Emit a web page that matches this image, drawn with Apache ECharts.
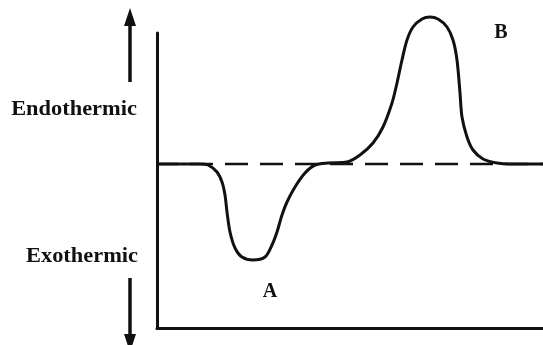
<!DOCTYPE html>
<html lang="en">
<head>
<meta charset="UTF-8" />
<title>DSC curve</title>
<script src="https://cdn.jsdelivr.net/npm/echarts@6/dist/echarts.min.js"></script>
<style>
    html, body { margin: 0; padding: 0; background: #fff; }
    #chart { width: 543px; height: 345px; }
</style>
</head>
<body>
<div id="chart"></div>
<script>
    // schematic DSC trace, arbitrary units (x = temperature, y = heat flow)
    const temp = [0, 28, 43, 51, 60, 65, 68, 70, 73, 78, 85, 96, 108, 115, 120, 125, 130, 138, 148, 158, 171,
        190, 203, 216, 226, 235, 240, 245, 250, 256, 265, 273, 281, 290, 296, 300, 303, 305, 310, 316, 326, 340, 353, 386];
    const heatFlow = [164, 164, 164, 163, 156, 146, 133, 116, 96, 80, 71, 68, 71, 83, 96, 113, 126, 141, 155, 163, 165,
        166, 173, 185, 201, 225, 245, 268, 288, 301, 309, 311, 309, 301, 288, 268, 235, 211, 191, 178, 169, 165, 164, 164];
    const baseline = 164;
    const xRange = [0, 386];
    const yRange = [0, 295];

    const ink = '#111';
    const font = 'bold 20px "Liberation Serif", "Times New Roman", serif';

    const chart = echarts.init(document.getElementById('chart'));

    const arrow = (x, y1, y2, tipY, baseY) => [
        { type: 'line', shape: { x1: x, y1: y1, x2: x, y2: y2 }, style: { stroke: ink, lineWidth: 3.5 } },
        { type: 'polygon', shape: { points: [[x, tipY], [x - 6, baseY], [x + 6, baseY]] }, style: { fill: ink } }
    ];
    const label = (text, x, y, sx) => ({
        type: 'text', x: x, y: y, scaleX: sx || 1,
        style: { text: text, font: font, fill: ink, align: 'center', verticalAlign: 'middle' }
    });

    chart.setOption({
        animation: false,
        grid: { left: 157, right: 0, top: 33, bottom: 17 },
        xAxis: {
            type: 'value', min: xRange[0], max: xRange[1],
            axisLine: { show: true, onZero: false, lineStyle: { color: ink, width: 3 } },
            axisTick: { show: false }, axisLabel: { show: false }, splitLine: { show: false }
        },
        yAxis: {
            type: 'value', min: yRange[0], max: yRange[1],
            axisLine: { show: true, onZero: false, lineStyle: { color: ink, width: 3 } },
            axisTick: { show: false }, axisLabel: { show: false }, splitLine: { show: false }
        },
        series: [
            {
                name: 'baseline', type: 'line', symbol: 'none', z: 1,
                data: [[xRange[0], baseline], [xRange[1], baseline]],
                lineStyle: { color: ink, width: 2.5, type: [23, 12], dashOffset: 2 }
            },
            {
                name: 'dsc', type: 'line', symbol: 'none', smooth: 0.3, clip: false, z: 2,
                data: temp.map((t, i) => [t, heatFlow[i]]),
                lineStyle: { color: ink, width: 3 }
            }
        ],
        graphic: [
            ...arrow(130, 82, 22, 8, 26),
            ...arrow(130, 278, 336, 352, 334),
            label('Endothermic', 74, 110, 1.12),
            label('Exothermic', 82, 257, 1.12),
            label('A', 270, 292),
            label('B', 501, 33)
        ]
    });
</script>
</body>
</html>
